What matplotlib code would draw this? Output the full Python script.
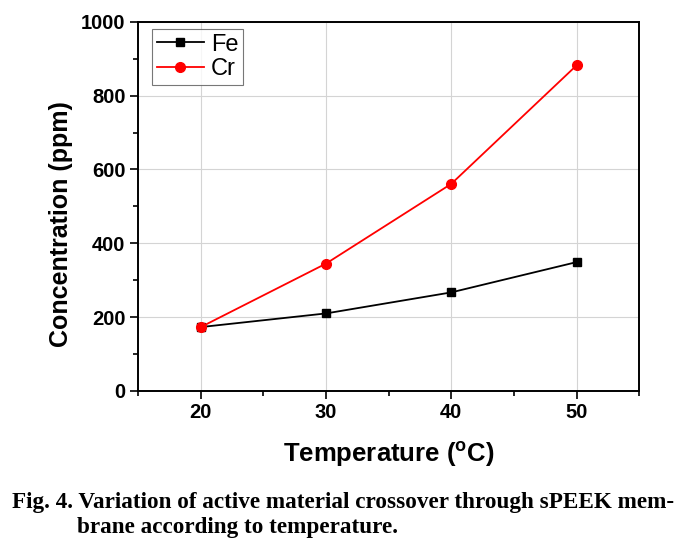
import matplotlib
matplotlib.use("Agg")
import matplotlib.pyplot as plt
from matplotlib.ticker import MultipleLocator

# data
temperature = [20, 30, 40, 50]
fe_ppm = [173, 210, 267, 349]
cr_ppm = [173, 345, 561, 882]

x_ticks = [20, 30, 40, 50]
y_ticks = [0, 200, 400, 600, 800, 1000]

caption_1 = "Fig. 4. Variation of active material crossover through sPEEK mem-"
caption_2 = "brane according to temperature."

plt.rcParams["font.family"] = "Liberation Sans"
plt.rcParams["mathtext.fontset"] = "custom"
plt.rcParams["mathtext.rm"] = "Liberation Sans:bold"
plt.rcParams["mathtext.bf"] = "Liberation Sans:bold"

fig = plt.figure(figsize=(6.94, 5.46), dpi=100)
ax = fig.add_axes([0.199, 0.284, 0.722, 0.676])

ax.plot(temperature, fe_ppm, color="black", marker="s", markersize=6,
        linewidth=1.3, label="Fe", zorder=3)
ax.plot(temperature, cr_ppm, color="red", marker="o", markersize=7,
        linewidth=1.3, label="Cr", zorder=3)

ax.set_xlim(15, 55)
ax.set_ylim(0, 1000)
ax.set_xticks(x_ticks)
ax.set_yticks(y_ticks)
ax.xaxis.set_minor_locator(MultipleLocator(5))
ax.yaxis.set_minor_locator(MultipleLocator(100))
ax.grid(True, which="major", color="#d4d4d4", linewidth=0.8, zorder=0)

for s in ax.spines.values():
    s.set_linewidth(1.4)
ax.tick_params(which="major", direction="out", length=6, width=1.2,
               labelsize=14.5, pad=3)
ax.tick_params(which="minor", direction="out", length=3.5, width=1.2)
for lab in ax.get_xticklabels() + ax.get_yticklabels():
    lab.set_fontweight("bold")

ax.set_xlabel(r"Temperature ($^{\mathrm{o}}$C)", fontsize=18.5, fontweight="bold")
ax.set_ylabel("Concentration (ppm)", fontsize=18, fontweight="bold")
ax.xaxis.set_label_coords(0.5, -0.13)
ax.yaxis.set_label_coords(-0.13, 0.452)

leg = ax.legend(loc="upper left", bbox_to_anchor=(0.028, 0.981), fontsize=17,
                frameon=True, fancybox=False, edgecolor="#555555",
                handlelength=2.0, handletextpad=0.3, borderpad=0.2,
                labelspacing=0.12, borderaxespad=0)
leg.get_frame().set_linewidth(0.8)

fig.text(0.017, 0.0696, caption_1, fontfamily="Liberation Serif", fontweight="bold",
         fontsize=16.7, va="baseline", ha="left")
fig.text(0.111, 0.024, caption_2, fontfamily="Liberation Serif", fontweight="bold",
         fontsize=16.7, va="baseline", ha="left")

fig.savefig("out.png", dpi=100)
